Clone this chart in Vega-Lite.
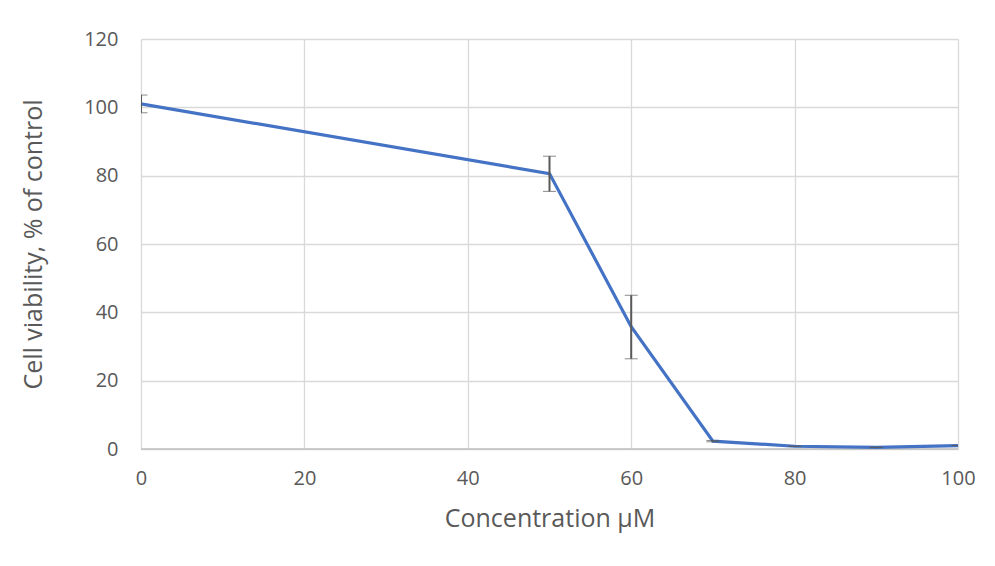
{
  "$schema": "https://vega.github.io/schema/vega-lite/v6.json",
  "width": 817,
  "height": 410,
  "autosize": {"type": "none"},
  "padding": {"left": 141, "top": 39, "right": 37, "bottom": 117},
  "background": "white",
  "data": {"values": [
    {"conc": 0, "viability": 101.0, "lo": 98.4, "hi": 103.6},
    {"conc": 50, "viability": 80.6, "lo": 75.4, "hi": 85.7},
    {"conc": 60, "viability": 35.8, "lo": 26.4, "hi": 45.0},
    {"conc": 70, "viability": 2.3, "lo": 2.1, "hi": 2.5},
    {"conc": 80, "viability": 0.8, "lo": 0.8, "hi": 0.8},
    {"conc": 90, "viability": 0.5, "lo": 0.5, "hi": 0.5},
    {"conc": 100, "viability": 1.0, "lo": 1.0, "hi": 1.0}
  ]},
  "config": {
    "view": {"stroke": null},
    "font": "Open Sans",
    "axis": {
      "labelFont": "Open Sans",
      "titleFont": "Open Sans",
      "labelColor": "#595959",
      "titleColor": "#595959",
      "labelFontSize": 20,
      "titleFontSize": 25,
      "titleFontWeight": "normal",
      "gridColor": "#d9d9d9",
      "gridWidth": 1.3,
      "ticks": false,
      "domain": false,
      "labelFlush": false
    }
  },
  "layer": [
    {
      "mark": {"type": "rule", "color": "#bfbfbf", "strokeWidth": 1.5},
      "data": {"values": [{"z": 0}]},
      "encoding": {"y": {"field": "z", "type": "quantitative"}}
    },
    {
      "mark": {"type": "line", "color": "#4472C4", "strokeWidth": 3.2},
      "encoding": {
        "x": {"field": "conc", "type": "quantitative",
          "scale": {"domain": [0, 100], "nice": false},
          "axis": {"values": [0, 20, 40, 60, 80, 100], "title": "Concentration µM", "labelPadding": 19, "titlePadding": 18}},
        "y": {"field": "viability", "type": "quantitative",
          "scale": {"domain": [0, 120], "nice": false},
          "axis": {"values": [0, 20, 40, 60, 80, 100, 120], "title": "Cell viability, % of control", "labelPadding": 23, "titlePadding": 37}}
      }
    },
    {
      "mark": {"type": "errorbar", "clip": true, "ticks": {"size": 13, "color": "#595959", "strokeWidth": 2}, "rule": {"color": "#595959", "strokeWidth": 2}},
      "encoding": {
        "x": {"field": "conc", "type": "quantitative"},
        "y": {"field": "lo", "type": "quantitative", "title": "Cell viability, % of control"},
        "y2": {"field": "hi"}
      }
    }
  ]
}
